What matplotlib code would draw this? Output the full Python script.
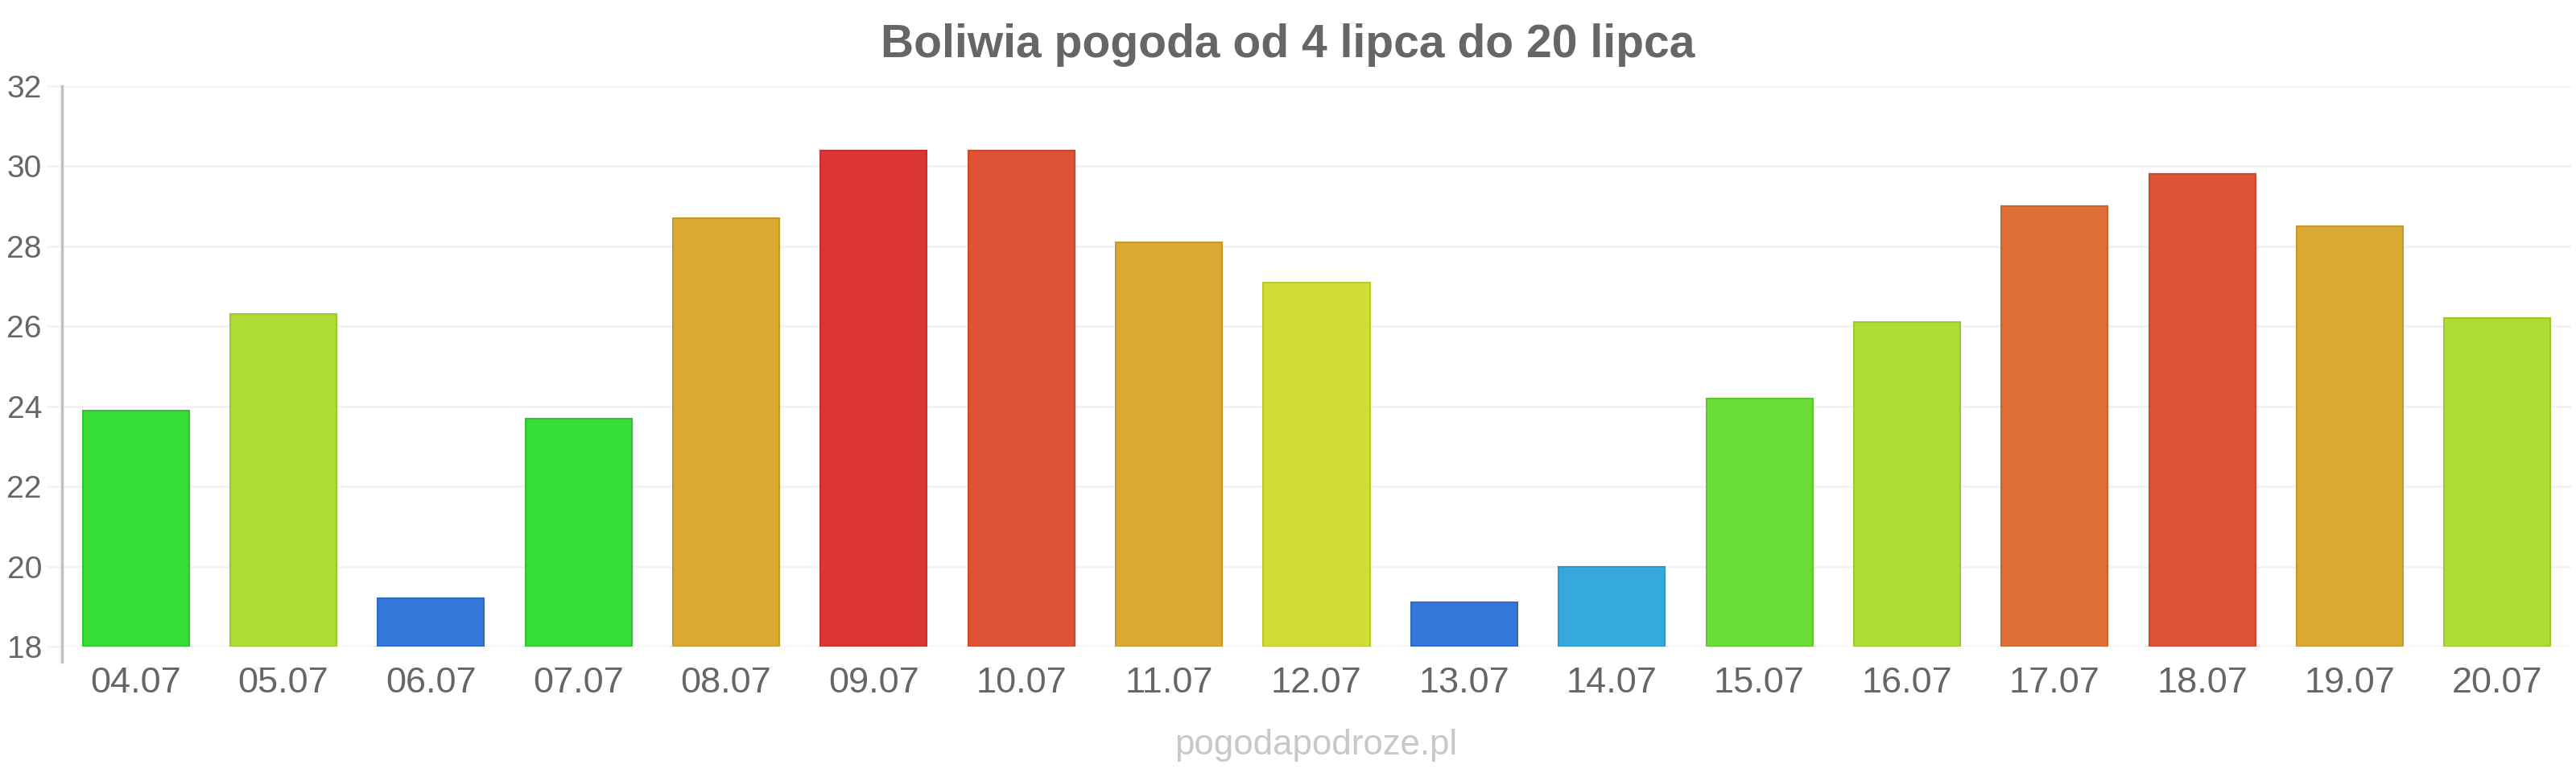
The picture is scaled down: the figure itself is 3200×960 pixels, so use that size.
import matplotlib
matplotlib.use("Agg")
import matplotlib.pyplot as plt
from matplotlib.lines import Line2D

categories = ["04.07", "05.07", "06.07", "07.07", "08.07", "09.07", "10.07", "11.07",
              "12.07", "13.07", "14.07", "15.07", "16.07", "17.07", "18.07", "19.07", "20.07"]
values = [23.9, 26.3, 19.2, 23.7, 28.7, 30.4, 30.4, 28.1, 27.1, 19.1, 20.0, 24.2, 26.1,
          29.0, 29.8, 28.5, 26.2]
colors = ["#35dd36", "#addd34", "#3576db", "#35dd36", "#dca934", "#dc3535", "#de5235",
          "#dca934", "#cfdd34", "#3576db", "#36a9dc", "#69dd35", "#addd34", "#de6f35",
          "#de5235", "#dca934", "#addd34"]
edges = ["#2fc42f", "#9cc72e", "#2f6ac6", "#2fc42f", "#c69830", "#c63030", "#c84a2f",
         "#c69830", "#bbc72e", "#2f6ac6", "#3098c6", "#5ec72f", "#9cc72e", "#c8642f",
         "#c84a2f", "#c69830", "#9cc72e"]
yticks = [18, 20, 22, 24, 26, 28, 30, 32]
title = "Boliwia pogoda od 4 lipca do 20 lipca"
credit = "pogodapodroze.pl"

plt.rcParams['font.family'] = ['Liberation Sans', 'DejaVu Sans']

fig = plt.figure(figsize=(32, 9.6), dpi=100)
ax = fig.add_axes([77/3200, 1-803/960, (3194-77)/3200, (803-107)/960])

x = list(range(len(categories)))
ax.bar(x, [v - 18 for v in values], bottom=18, width=0.72, color=colors,
       edgecolor=edges, linewidth=1.5, zorder=3)

ax.set_xlim(-0.5, len(categories) - 0.5)
ax.set_ylim(18, 32)
ax.set_yticks(yticks)
ax.set_yticklabels([str(t) for t in yticks], fontsize=28, color="#666666")
ax.set_xticks(x)
ax.set_xticklabels(categories, fontsize=32.5, color="#666666")
ax.tick_params(axis='y', length=14, width=2, color="#f3f3f3", pad=4)
ax.tick_params(axis='x', length=0, pad=18)
ax.grid(axis='y', color="#f3f3f3", linewidth=2, zorder=0)
for s in ax.spines.values():
    s.set_visible(False)

ax.add_line(Line2D([0, 0], [-0.027, 1.0], transform=ax.transAxes, color="#c0c0c0",
                   linewidth=2.5, clip_on=False))

fig.text(0.5, 1-56/960, title, ha='center', va='center', fontsize=41,
         fontweight='bold', color="#666666")
fig.text(1635/3200, 1-926/960, credit, ha='center', va='center', fontsize=31.5,
         color="#c8c8cc")

fig.savefig("out.png", dpi=100, facecolor="white")
